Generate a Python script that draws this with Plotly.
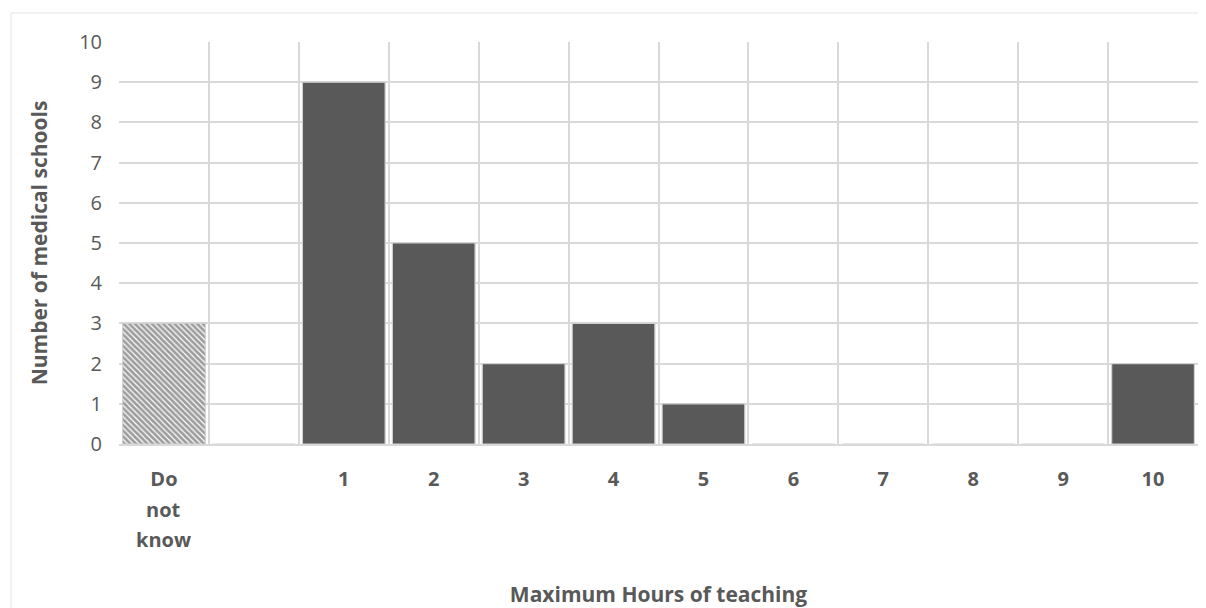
import plotly.graph_objects as go

categories = ["Do not know", " ", "1", "2", "3", "4", "5", "6", "7", "8", "9", "10"]
tick_text = ["Do", " ", "1", "2", "3", "4", "5", "6", "7", "8", "9", "10"]
extra_label_lines = ["not", "know"]
values = [3, 0, 9, 5, 2, 3, 1, 0, 0, 0, 0, 2]
y_ticks = list(range(0, 11))

grey_text = "#595959"
font_family = "Open Sans, Noto Sans, sans-serif"

W, H = 1190, 600
L, R, T, B = 111, 0, 34, 164
pw, ph = W - L - R, H - T - B

fig = go.Figure()
fig.add_trace(go.Bar(
    x=categories[:1], y=values[:1],
    marker=dict(color="white",
                pattern=dict(shape="\\", fgcolor="#3a3a3a", bgcolor="white", size=4, solidity=0.7),
                line=dict(color="#d0d0d0", width=1)),
    showlegend=False,
))
fig.add_trace(go.Bar(
    x=categories[1:], y=values[1:],
    marker=dict(color="#595959", line=dict(color="#d0d0d0", width=1.2)),
    showlegend=False,
))

annotations = []
for i, txt in enumerate(extra_label_lines):
    fig_y = 501 + 30 * i  # figure-relative pixel centre of the line
    annotations.append(dict(
        x=categories[0], xref="x", y=(T + ph - fig_y) / ph, yref="paper",
        text=f"<b>{txt}</b>", showarrow=False, yanchor="middle", xanchor="center",
        font=dict(size=20, color=grey_text, family=font_family),
    ))

fig.update_layout(
    width=W, height=H,
    margin=dict(l=L, r=R, t=T, b=B, autoexpand=False),
    plot_bgcolor="white", paper_bgcolor="white",
    bargap=0.08,
    barmode="overlay",
    font=dict(family=font_family, color=grey_text),
    annotations=annotations,
    shapes=[dict(type="rect", xref="paper", yref="paper",
                 x0=(3 - L) / pw, x1=1.05, y0=-0.6, y1=1 + (T - 5) / ph,
                 line=dict(color="#e3e3e3", width=1), layer="below")],
)
fig.update_xaxes(
    type="category", categoryorder="array", categoryarray=categories,
    tickvals=categories, ticktext=[f"<b>{t}</b>" for t in tick_text],
    tickson="boundaries", showgrid=True, gridcolor="#d9d9d9", gridwidth=1.5,
    ticks="", showline=True, linecolor="#d9d9d9", linewidth=1.5,
    ticklabelstandoff=16, automargin=False,
    tickfont=dict(size=20, color=grey_text, family=font_family),
    title=dict(text="<b>Maximum Hours of teaching</b>", font=dict(size=21, color=grey_text), standoff=98),
    range=[-0.5, 11.5],
)
fig.update_yaxes(
    range=[0, 10], tickvals=y_ticks, showgrid=True, gridcolor="#d9d9d9", gridwidth=1.5,
    zeroline=False, ticks="", ticklabelstandoff=16, automargin=False,
    tickfont=dict(size=20, color=grey_text),
    title=dict(text="<b>Number of medical schools</b>", font=dict(size=21, color=grey_text), standoff=25),
)
fig.write_html("out.html")
